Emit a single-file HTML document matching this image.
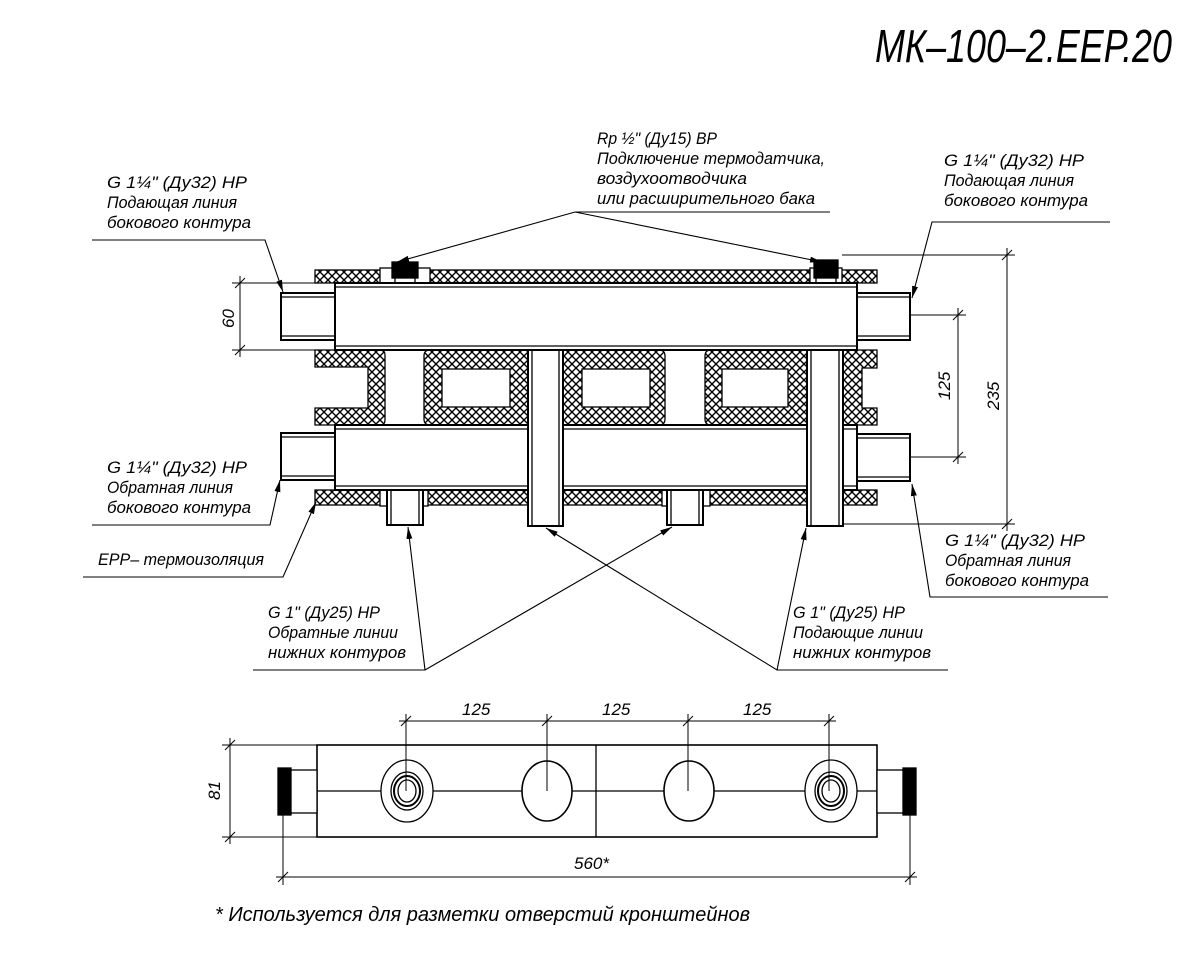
<!DOCTYPE html>
<html><head><meta charset="utf-8"><style>
html,body{margin:0;padding:0;background:#fff;}
svg{display:block;}
text{font-family:"Liberation Sans",sans-serif;font-style:italic;fill:#000;}
.t{font-size:17px;}
</style></head><body>
<svg width="1200" height="966" viewBox="0 0 1200 966" xmlns="http://www.w3.org/2000/svg">
<defs>
<pattern id="x" width="8" height="8" patternUnits="userSpaceOnUse">
<rect width="8" height="8" fill="#fff"/>
<path d="M0 0L8 8M8 0L0 8" stroke="#000" stroke-width="1.4"/>
</pattern>
<marker id="a" viewBox="0 0 12 6" refX="12" refY="3" markerWidth="12" markerHeight="6" orient="auto" markerUnits="userSpaceOnUse">
<path d="M0 0L12 3L0 6z" fill="#000"/>
</marker>
</defs>
<g stroke="#000" stroke-width="1.3" fill="none">
<rect x="315" y="270" width="562" height="13" fill="url(#x)"/>
<rect x="380" y="268" width="50" height="16" fill="#fff"/>
<rect x="810" y="268" width="32" height="16" fill="#fff"/>
<rect x="392" y="262" width="26" height="16" fill="#000"/>
<rect x="395" y="278" width="20" height="9" fill="#fff"/>
<rect x="814" y="260" width="24" height="18" fill="#000"/>
<rect x="816" y="278" width="20" height="9" fill="#fff"/>
<path d="M315 350H380Q385 350 385 355V420Q385 425 380 425H315V408H368V367H315Z" fill="url(#x)"/>
<path d="M430 350H528V425H430Q424 425 424 419V356Q424 350 430 350Z" fill="url(#x)"/>
<rect x="442" y="369" width="68" height="38" fill="#fff"/>
<path d="M563 350H659Q665 350 665 356V419Q665 425 659 425H563Z" fill="url(#x)"/>
<rect x="582" y="369" width="68" height="38" fill="#fff"/>
<path d="M711 350H807V425H711Q705 425 705 419V356Q705 350 711 350Z" fill="url(#x)"/>
<rect x="722" y="369" width="66" height="38" fill="#fff"/>
<path d="M843 350H877V368H862V408H877V425H843Z" fill="url(#x)"/>
<rect x="315" y="490" width="562" height="15" fill="url(#x)"/>
<rect x="380" y="488" width="48" height="18" fill="#fff"/>
<rect x="662" y="488" width="48" height="18" fill="#fff"/>
<rect x="335" y="283" width="522" height="67" fill="#fff" stroke-width="2"/>
<line x1="335" y1="287" x2="857" y2="287"/>
<line x1="335" y1="346" x2="857" y2="346"/>
<rect x="335" y="425" width="522" height="65" fill="#fff" stroke-width="2"/>
<line x1="335" y1="429" x2="857" y2="429"/>
<line x1="335" y1="486" x2="857" y2="486"/>
<rect x="528" y="350" width="35" height="176" fill="#fff" stroke-width="2"/>
<line x1="532" y1="350" x2="532" y2="526"/><line x1="559" y1="350" x2="559" y2="526"/>
<rect x="807" y="350" width="36" height="176" fill="#fff" stroke-width="2"/>
<line x1="811" y1="350" x2="811" y2="526"/><line x1="839" y1="350" x2="839" y2="526"/>
<rect x="387" y="490" width="36" height="35" fill="#fff" stroke-width="2"/>
<line x1="391" y1="490" x2="391" y2="525"/><line x1="419" y1="490" x2="419" y2="525"/>
<rect x="667" y="490" width="36" height="35" fill="#fff" stroke-width="2"/>
<line x1="671" y1="490" x2="671" y2="525"/><line x1="699" y1="490" x2="699" y2="525"/>
<rect x="281" y="293" width="54" height="47" fill="#fff" stroke-width="2"/>
<line x1="281" y1="297" x2="335" y2="297"/><line x1="281" y1="336" x2="335" y2="336"/>
<rect x="281" y="433" width="54" height="47" fill="#fff" stroke-width="2"/>
<line x1="281" y1="437" x2="335" y2="437"/><line x1="281" y1="476" x2="335" y2="476"/>
<rect x="857" y="293" width="53" height="47" fill="#fff" stroke-width="2"/>
<line x1="857" y1="297" x2="910" y2="297"/><line x1="857" y1="336" x2="910" y2="336"/>
<rect x="857" y="434" width="53" height="47" fill="#fff" stroke-width="2"/>
<line x1="857" y1="438" x2="910" y2="438"/><line x1="857" y1="477" x2="910" y2="477"/>

<g stroke-width="1">
<line x1="232" y1="283" x2="335" y2="283"/><line x1="232" y1="350" x2="335" y2="350"/>
<line x1="240" y1="276" x2="240" y2="357"/>
<line x1="235" y1="288" x2="245" y2="278"/><line x1="235" y1="355" x2="245" y2="345"/>
<line x1="910" y1="315" x2="966" y2="315"/><line x1="910" y1="457" x2="966" y2="457"/>
<line x1="958" y1="308" x2="958" y2="464"/>
<line x1="953" y1="320" x2="963" y2="310"/><line x1="953" y1="462" x2="963" y2="452"/>
<line x1="842" y1="255" x2="1015" y2="255"/><line x1="843" y1="524" x2="1015" y2="524"/>
<line x1="1007" y1="248" x2="1007" y2="531"/>
<line x1="1002" y1="260" x2="1012" y2="250"/><line x1="1002" y1="529" x2="1012" y2="519"/>
</g>

<g stroke-width="1.1">
<polyline points="830,212 575,212 397,262" marker-end="url(#a)"/>
<line x1="575" y1="212" x2="822" y2="262" marker-end="url(#a)"/>
<polyline points="92,240 265,240 283,292" marker-end="url(#a)"/>
<polyline points="1110,222 932,222 912,298" marker-end="url(#a)"/>
<polyline points="92,525 270,525 280,480" marker-end="url(#a)"/>
<polyline points="83,577 283,577 316,502" marker-end="url(#a)"/>
<polyline points="253,670 425,670 408,527" marker-end="url(#a)"/>
<line x1="425" y1="670" x2="672" y2="527" marker-end="url(#a)"/>
<polyline points="948,670 777,670 546,528" marker-end="url(#a)"/>
<line x1="777" y1="670" x2="806" y2="528" marker-end="url(#a)"/>
<polyline points="1108,597 930,597 912,484" marker-end="url(#a)"/>
</g>

<rect x="317" y="745" width="560" height="92" stroke-width="1.6"/>
<line x1="596" y1="745" x2="596" y2="837"/>
<line x1="317" y1="791" x2="877" y2="791"/>
<rect x="278" y="768" width="13" height="47" fill="#000"/>
<rect x="291" y="770" width="26" height="43" fill="#fff"/>
<rect x="903" y="768" width="13" height="47" fill="#000"/>
<rect x="877" y="770" width="26" height="43" fill="#fff"/>
<ellipse cx="407" cy="791" rx="26" ry="31" fill="#fff"/>
<ellipse cx="407" cy="791" rx="16" ry="19" fill="#fff"/>
<ellipse cx="407" cy="791" rx="13" ry="15" fill="#fff" stroke-width="2"/>
<ellipse cx="407" cy="791" rx="9" ry="11" fill="#fff"/>
<ellipse cx="831" cy="791" rx="26" ry="31" fill="#fff"/>
<ellipse cx="831" cy="791" rx="16" ry="19" fill="#fff"/>
<ellipse cx="831" cy="791" rx="13" ry="15" fill="#fff" stroke-width="2"/>
<ellipse cx="831" cy="791" rx="9" ry="11" fill="#fff"/>
<ellipse cx="547" cy="791" rx="25" ry="30" fill="#fff" stroke-width="1.6"/>
<ellipse cx="689" cy="791" rx="25" ry="30" fill="#fff" stroke-width="1.6"/>
<g stroke-width="1">
<line x1="406" y1="714" x2="406" y2="791"/><line x1="547" y1="714" x2="547" y2="791"/>
<line x1="688" y1="714" x2="688" y2="791"/><line x1="829" y1="714" x2="829" y2="791"/>
<line x1="399" y1="721" x2="836" y2="721"/>
<line x1="401" y1="726" x2="411" y2="716"/><line x1="542" y1="726" x2="552" y2="716"/>
<line x1="683" y1="726" x2="693" y2="716"/><line x1="824" y1="726" x2="834" y2="716"/>
<line x1="222" y1="745" x2="317" y2="745"/><line x1="222" y1="837" x2="317" y2="837"/>
<line x1="230" y1="738" x2="230" y2="844"/>
<line x1="225" y1="750" x2="235" y2="740"/><line x1="225" y1="842" x2="235" y2="832"/>
<line x1="283" y1="815" x2="283" y2="885"/><line x1="910" y1="815" x2="910" y2="885"/>
<line x1="276" y1="877" x2="917" y2="877"/>
<line x1="278" y1="882" x2="288" y2="872"/><line x1="905" y1="882" x2="915" y2="872"/>
</g>
</g>

<text x="875" y="62" font-size="46" textLength="297" lengthAdjust="spacingAndGlyphs">МК–100–2.ЕЕР.20</text>

<g class="t">
<text x="597" y="144" textLength="120" lengthAdjust="spacingAndGlyphs">Rp ½" (Ду15) ВР</text>
<text x="597" y="164" textLength="228" lengthAdjust="spacingAndGlyphs">Подключение термодатчика,</text>
<text x="597" y="184" textLength="150" lengthAdjust="spacingAndGlyphs">воздухоотводчика</text>
<text x="597" y="204" textLength="218" lengthAdjust="spacingAndGlyphs">или расширительного бака</text>

<text x="107" y="188" textLength="140" lengthAdjust="spacingAndGlyphs">G 1¼" (Ду32) НР</text>
<text x="107" y="208" textLength="130" lengthAdjust="spacingAndGlyphs">Подающая линия</text>
<text x="107" y="228" textLength="144" lengthAdjust="spacingAndGlyphs">бокового контура</text>

<text x="944" y="166" textLength="140" lengthAdjust="spacingAndGlyphs">G 1¼" (Ду32) НР</text>
<text x="944" y="186" textLength="130" lengthAdjust="spacingAndGlyphs">Подающая линия</text>
<text x="944" y="206" textLength="144" lengthAdjust="spacingAndGlyphs">бокового контура</text>

<text x="107" y="473" textLength="140" lengthAdjust="spacingAndGlyphs">G 1¼" (Ду32) НР</text>
<text x="107" y="493" textLength="126" lengthAdjust="spacingAndGlyphs">Обратная линия</text>
<text x="107" y="513" textLength="144" lengthAdjust="spacingAndGlyphs">бокового контура</text>

<text x="98" y="565" textLength="166" lengthAdjust="spacingAndGlyphs">ЕРР– термоизоляция</text>

<text x="268" y="618" textLength="112" lengthAdjust="spacingAndGlyphs">G 1" (Ду25) НР</text>
<text x="268" y="638" textLength="130" lengthAdjust="spacingAndGlyphs">Обратные линии</text>
<text x="268" y="658" textLength="138" lengthAdjust="spacingAndGlyphs">нижних контуров</text>

<text x="793" y="618" textLength="112" lengthAdjust="spacingAndGlyphs">G 1" (Ду25) НР</text>
<text x="793" y="638" textLength="130" lengthAdjust="spacingAndGlyphs">Подающие линии</text>
<text x="793" y="658" textLength="138" lengthAdjust="spacingAndGlyphs">нижних контуров</text>

<text x="945" y="546" textLength="140" lengthAdjust="spacingAndGlyphs">G 1¼" (Ду32) НР</text>
<text x="945" y="566" textLength="126" lengthAdjust="spacingAndGlyphs">Обратная линия</text>
<text x="945" y="586" textLength="144" lengthAdjust="spacingAndGlyphs">бокового контура</text>

<text x="462" y="715">125</text><text x="602" y="715">125</text><text x="743" y="715">125</text>
<text x="574" y="869">560*</text>
<text transform="translate(234,328) rotate(-90)">60</text>
<text transform="translate(950,400) rotate(-90)">125</text>
<text transform="translate(999,410) rotate(-90)">235</text>
<text transform="translate(220,800) rotate(-90)">81</text>
</g>
<text x="215" y="921" font-size="20" textLength="535" lengthAdjust="spacingAndGlyphs">* Используется для разметки отверстий кронштейнов</text>
</svg>
</body></html>
